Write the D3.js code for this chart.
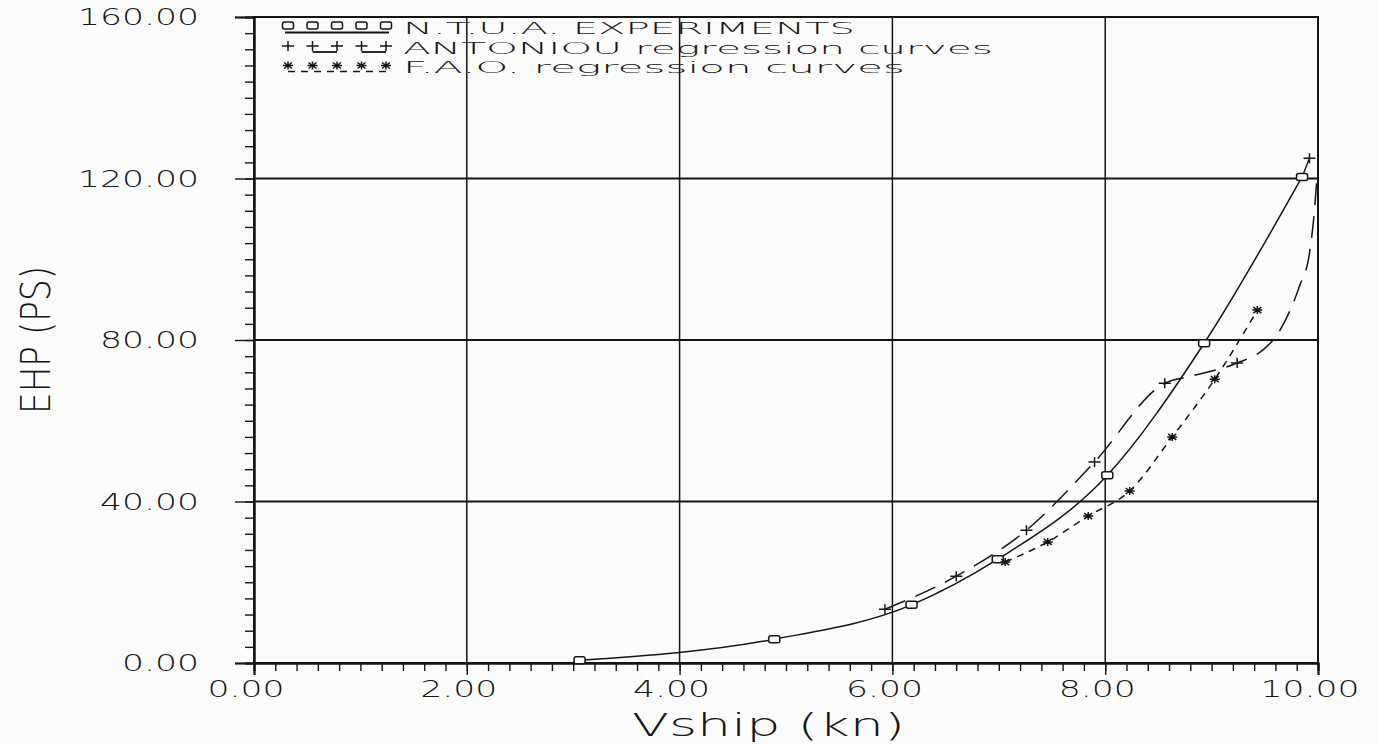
<!DOCTYPE html>
<html>
<head>
<meta charset="utf-8">
<script src="https://cdn.jsdelivr.net/npm/d3@7"></script>
<style>
  html, body { margin: 0; padding: 0; background: #fcfcfc; }
  svg { display: block; }
</style>
</head>
<body>
<svg id="chart" width="1378" height="744"></svg>
<script>
// N.T.U.A. experiments (squares, solid curve)
const ntuaV = [3.06, 4.89, 6.18, 6.99, 8.02, 8.93, 9.85];
const ntuaP = [0.7, 5.9, 14.4, 25.7, 46.5, 79.2, 120.4];

// ANTONIOU regression curves (+ markers, long dashes)
const antMarkV = [5.93, 6.60, 7.26, 7.90, 8.56, 9.24, 9.92];
const antMarkP = [13.3, 21.5, 32.9, 49.8, 69.3, 74.3, 125.0];
const antCurveV = [5.93, 6.60, 7.26, 7.90, 8.56, 8.83, 9.24, 9.48, 9.60, 9.73, 9.83, 9.92, 9.96, 9.99];
const antCurveP = [13.3, 21.5, 32.9, 49.8, 69.3, 71.2, 74.3, 77.5, 80.7, 86.9, 93.6, 101.5, 110.2, 120.0];
const antTailV = [9.86, 9.92];
const antTailP = [121.0, 125.0];

// F.A.O. regression curves (* markers, short dashes)
const faoV = [7.06, 7.46, 7.84, 8.23, 8.63, 9.03, 9.43];
const faoP = [25.0, 30.0, 36.4, 42.6, 56.0, 70.3, 87.4];

const xTicks = [0, 2, 4, 6, 8, 10];
const yTicks = [0, 40, 80, 120, 160];
const legendLabels = ["N.T.U.A.  EXPERIMENTS", "ANTONIOU  regression  curves", "F.A.O.  regression  curves"];

const INK = "#151515";
const FONT = "DejaVu Sans, sans-serif";

const svg = d3.select("#chart");
const x = d3.scaleLinear().domain([0, 10]).range([254, 1318]);
const y = d3.scaleLinear().domain([0, 160]).range([663, 17]);

const zip = (a, b) => a.map((v, i) => [v, b[i]]);
// plotter digits are wide, stretch them
const labelWidth = (s) => s.split("").reduce((w, c) => w + (c === "." ? 11 : 22), 0);

// grid
const grid = svg.append("g");
grid.selectAll("line.gx")
  .data(xTicks.slice(1, -1))
  .join("line")
  .attr("x1", (d) => x(d)).attr("x2", (d) => x(d))
  .attr("y1", y(160)).attr("y2", y(0))
  .attr("stroke", INK).attr("stroke-width", 1.5);
grid.selectAll("line.gy")
  .data(yTicks.slice(1, -1))
  .join("line")
  .attr("x1", x(0)).attr("x2", x(10))
  .attr("y1", (d) => y(d)).attr("y2", (d) => y(d))
  .attr("stroke", INK).attr("stroke-width", 2.2);

// frame
svg.append("rect")
  .attr("x", x(0)).attr("y", y(160))
  .attr("width", x(10) - x(0)).attr("height", y(0) - y(160))
  .attr("fill", "none").attr("stroke", INK).attr("stroke-width", 2);

// minor / major ticks through d3 axes
const xMinor = d3.axisBottom(x).tickValues(d3.range(0, 10.01, 0.2)).tickSize(8).tickFormat("");
const xMajor = d3.axisBottom(x).tickValues(xTicks).tickSize(12).tickFormat("");
const yMinor = d3.axisLeft(y).tickValues(d3.range(0, 160.1, 4)).tickSize(9).tickFormat("");
const yMajor = d3.axisLeft(y).tickValues(yTicks).tickSize(19).tickFormat("");
[
  [xMinor, `translate(0,${y(0)})`],
  [xMajor, `translate(0,${y(0)})`],
  [yMinor, `translate(${x(0)},0)`],
  [yMajor, `translate(${x(0)},0)`],
].forEach(([ax, tr]) => {
  const g = svg.append("g").attr("transform", tr).call(ax);
  g.select(".domain").attr("stroke", INK).attr("stroke-width", 2);
  g.selectAll(".tick line").attr("stroke", INK).attr("stroke-width", 1.4);
});

// tick labels
const fmt = d3.format(".2f");
svg.append("g").selectAll("text")
  .data(xTicks)
  .join("text")
  .attr("x", (d) => x(d) - 8 - labelWidth(fmt(d)) / 2)
  .attr("y", 697)
  .attr("textLength", (d) => labelWidth(fmt(d)))
  .attr("lengthAdjust", "spacingAndGlyphs")
  .style("font-family", FONT).style("font-size", "23px").style("font-weight", 300).style("fill", INK)
  .text((d) => fmt(d));

svg.append("g").selectAll("text")
  .data(yTicks)
  .join("text")
  .attr("x", (d) => 199 - labelWidth(fmt(d)))
  .attr("y", (d) => y(d) + 8)
  .attr("textLength", (d) => labelWidth(fmt(d)))
  .attr("lengthAdjust", "spacingAndGlyphs")
  .style("font-family", FONT).style("font-size", "23px").style("font-weight", 300).style("fill", INK)
  .text((d) => fmt(d));

// axis titles
svg.append("text")
  .attr("x", 632).attr("y", 736)
  .attr("textLength", 273).attr("lengthAdjust", "spacingAndGlyphs")
  .style("font-family", FONT).style("font-size", "32px").style("font-weight", 300).style("fill", INK)
  .text("Vship  (kn)");

svg.append("text")
  .attr("transform", "translate(50,340) rotate(-90)")
  .attr("text-anchor", "middle")
  .attr("textLength", 148).attr("lengthAdjust", "spacingAndGlyphs")
  .style("font-family", FONT)
  .style("font-size", "40px").style("font-weight", 300).style("fill", INK)
  .text("EHP (PS)");

// curves
const line = d3.line().x((d) => x(d[0])).y((d) => y(d[1])).curve(d3.curveMonotoneX);
const plot = svg.append("g");

plot.append("path")
  .attr("d", line(zip(ntuaV, ntuaP)))
  .attr("fill", "none").attr("stroke", INK).attr("stroke-width", 1.5);

plot.append("path")
  .attr("d", line(zip(antCurveV, antCurveP)))
  .attr("fill", "none").attr("stroke", INK).attr("stroke-width", 1.5)
  .attr("stroke-dasharray", "22,11");

plot.append("path")
  .attr("d", d3.line().x((d) => x(d[0])).y((d) => y(d[1]))(zip(antTailV, antTailP)))
  .attr("fill", "none").attr("stroke", INK).attr("stroke-width", 1.4);

plot.append("path")
  .attr("d", line(zip(faoV, faoP)))
  .attr("fill", "none").attr("stroke", INK).attr("stroke-width", 1.5)
  .attr("stroke-dasharray", "7,6");

// marker helpers
const square = (g, cx, cy) =>
  g.append("rect")
    .attr("x", cx - 5.5).attr("y", cy - 3.5).attr("width", 11).attr("height", 7)
    .attr("rx", 2).attr("fill", "#fcfcfc").attr("stroke", INK).attr("stroke-width", 1.5);
const plus = (g, cx, cy) =>
  g.append("path")
    .attr("d", `M${cx - 6},${cy}H${cx + 6}M${cx},${cy - 5}V${cy + 5}`)
    .attr("stroke", INK).attr("stroke-width", 1.5);
const star = (g, cx, cy) =>
  g.append("path")
    .attr("d", `M${cx - 5},${cy}H${cx + 5}M${cx},${cy - 4}V${cy + 4}M${cx - 4},${cy - 3}L${cx + 4},${cy + 3}M${cx - 4},${cy + 3}L${cx + 4},${cy - 3}`)
    .attr("stroke", INK).attr("stroke-width", 1.5);

zip(ntuaV, ntuaP).forEach(([v, p]) => square(plot, x(v), y(p)));
zip(antMarkV, antMarkP).forEach(([v, p]) => plus(plot, x(v), y(p)));
zip(faoV, faoP).forEach(([v, p]) => star(plot, x(v), y(p)));

// legend
const leg = svg.append("g");
const symX = d3.range(5).map((i) => 288 + i * 24.5);
const rowY = [27.5, 47, 66.5];

symX.forEach((sx) => square(leg, sx, rowY[0] - 2));
leg.append("line").attr("x1", symX[0] - 3).attr("x2", symX[4] + 3)
  .attr("y1", rowY[0] + 5).attr("y2", rowY[0] + 5).attr("stroke", INK).attr("stroke-width", 1.8);

symX.forEach((sx) => plus(leg, sx, rowY[1] - 1));
[[1, 2], [3, 4]].forEach(([a, b]) =>
  leg.append("line").attr("x1", symX[a]).attr("x2", symX[b])
    .attr("y1", rowY[1] + 5).attr("y2", rowY[1] + 5).attr("stroke", INK).attr("stroke-width", 1.8));

symX.forEach((sx) => star(leg, sx, rowY[2] - 1));
leg.append("line").attr("x1", symX[0]).attr("x2", symX[4])
  .attr("y1", rowY[2] + 5).attr("y2", rowY[2] + 5).attr("stroke", INK).attr("stroke-width", 1.6)
  .attr("stroke-dasharray", "7,6");

const legWidths = [452, 590, 502];
leg.selectAll("text")
  .data(legendLabels)
  .join("text")
  .attr("x", 403)
  .attr("y", (d, i) => rowY[i] + 6.5)
  .attr("textLength", (d, i) => legWidths[i])
  .attr("lengthAdjust", "spacingAndGlyphs")
  .style("font-family", FONT).style("font-size", "16.5px").style("font-weight", 300).style("fill", INK)
  .text((d) => d);
</script>
</body>
</html>
